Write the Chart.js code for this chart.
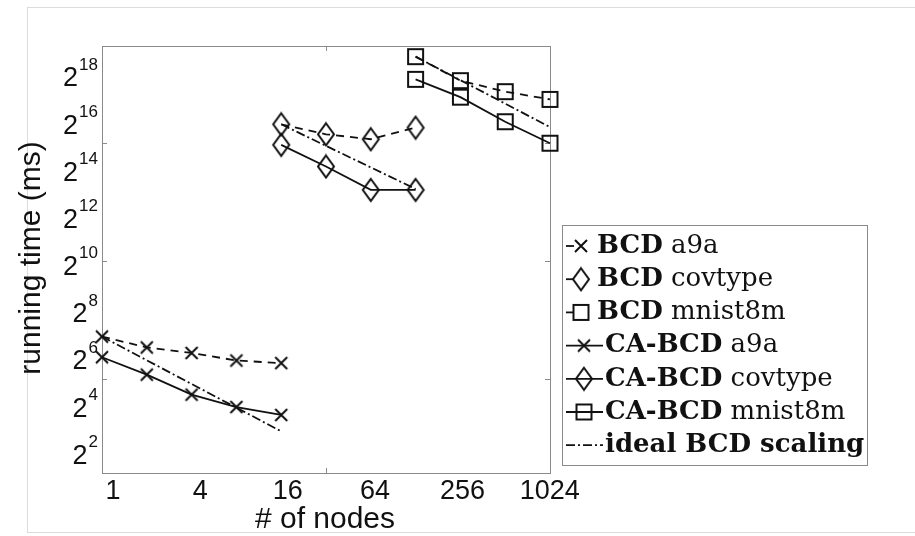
<!DOCTYPE html>
<html>
<head>
<meta charset="utf-8" />
<title>BCD vs CA-BCD running time</title>
<style>
  body { margin: 0; background: #fff; }
</style>
</head>
<body>
<canvas id="chart" width="915" height="536"></canvas>
<script src="https://cdn.jsdelivr.net/npm/chart.js@4.4.1/dist/chart.umd.min.js"></script>
<script>
// number of nodes for each dataset
const nodesA9a = [1, 2, 4, 8, 16];
const nodesCov = [16, 32, 64, 128];
const nodesMnist = [128, 256, 512, 1024];

// running time (ms)
const bcdA9a = [110, 80, 68, 54.5, 50.5];
const caA9a = [60, 36, 20, 13.9, 11];
const bcdCov = [56300, 42000, 36300, 51000];
const caCov = [30800, 16300, 8190, 8190];
const bcdMnist = [411000, 203000, 147000, 117000];
const caMnist = [211000, 125000, 60700, 32300];

// ideal BCD scaling (start and end of each segment)
const idealA9aNodes = [1, 16];
const idealA9a = [110, 6.8];
const idealCovNodes = [16, 128];
const idealCov = [56300, 8420];
const idealMnistNodes = [128, 1024];
const idealMnist = [411000, 51800];

// axis ticks
const xTicks = [1, 4, 16, 64, 256, 1024];
const yExps = [2, 4, 6, 8, 10, 12, 14, 16, 18];
const xTickMarks = [32];
const yTickMarks = [5, 10, 15];

const INK = "#111";
const DASH = [8, 6];
const DASHDOT = [9, 3, 2, 3];

function marker(kind) {
  const c = document.createElement("canvas");
  let w = 16, h = 16;
  if (kind === "diamond") { w = 20; h = 26; }
  if (kind === "square") { w = 19; h = 19; }
  c.width = w; c.height = h;
  const g = c.getContext("2d");
  g.strokeStyle = INK;
  g.lineWidth = 2;
  g.beginPath();
  if (kind === "cross") {
    g.moveTo(2, 2); g.lineTo(14, 14);
    g.moveTo(14, 2); g.lineTo(2, 14);
  } else if (kind === "diamond") {
    g.moveTo(w / 2, 2); g.lineTo(w - 2, h / 2);
    g.lineTo(w / 2, h - 2); g.lineTo(2, h / 2); g.closePath();
  } else {
    g.rect(2, 2, 15, 15);
  }
  g.stroke();
  return c;
}
const mCross = marker("cross");
const mDiamond = marker("diamond");
const mSquare = marker("square");

function pts(xs, ys) {
  return xs.map((x, i) => ({ x: x, y: ys[i] }));
}

function series(xs, ys, dash, pm) {
  return {
    data: pts(xs, ys),
    borderColor: INK,
    borderWidth: 1.8,
    borderDash: dash,
    pointStyle: pm || false,
    pointRadius: pm ? 6 : 0,
    pointBorderColor: INK,
    backgroundColor: "transparent",
    clip: false,
  };
}

const datasets = [
  series(idealA9aNodes, idealA9a, DASHDOT, null),
  series(idealCovNodes, idealCov, DASHDOT, null),
  series(idealMnistNodes, idealMnist, DASHDOT, null),
  series(nodesA9a, bcdA9a, DASH, mCross),
  series(nodesCov, bcdCov, DASH, mDiamond),
  series(nodesMnist, bcdMnist, DASH, mSquare),
  series(nodesA9a, caA9a, [], mCross),
  series(nodesCov, caCov, [], mDiamond),
  series(nodesMnist, caMnist, [], mSquare),
];

const legendItems = [
  { bold: "BCD", rest: " a9a", dash: DASH, m: mCross, ca: false },
  { bold: "BCD", rest: " covtype", dash: DASH, m: mDiamond, ca: false },
  { bold: "BCD", rest: " mnist8m", dash: DASH, m: mSquare, ca: false },
  { bold: "CA-BCD", rest: " a9a", dash: [], m: mCross, ca: true },
  { bold: "CA-BCD", rest: " covtype", dash: [], m: mDiamond, ca: true },
  { bold: "CA-BCD", rest: " mnist8m", dash: [], m: mSquare, ca: true },
  { bold: "ideal BCD scaling", rest: "", dash: DASHDOT, m: null, ca: true },
];

const frame = {
  id: "frame",
  beforeDatasetsDraw(chart) {
    const ctx = chart.ctx;
    const a = chart.chartArea;
    const xs = chart.scales.x, ys = chart.scales.y;
    ctx.save();
    // figure border
    ctx.strokeStyle = "#dcdcdc";
    ctx.lineWidth = 1;
    ctx.strokeRect(27.5, 7.5, 900, 525);
    // axes box
    ctx.strokeStyle = "#8a8a8a";
    ctx.strokeRect(a.left + 0.5, a.top + 0.5, a.right - a.left, a.bottom - a.top);
    ctx.beginPath();
    for (const v of xTickMarks) {
      const px = Math.round(xs.getPixelForValue(v)) + 0.5;
      ctx.moveTo(px, a.top); ctx.lineTo(px, a.top + 5);
      ctx.moveTo(px, a.bottom); ctx.lineTo(px, a.bottom - 5);
    }
    for (const k of yTickMarks) {
      const py = Math.round(ys.getPixelForValue(Math.pow(2, k))) + 0.5;
      ctx.moveTo(a.left, py); ctx.lineTo(a.left + 5, py);
      ctx.moveTo(a.right, py); ctx.lineTo(a.right - 5, py);
    }
    ctx.stroke();
    ctx.restore();
  },
  afterDraw(chart) {
    const ctx = chart.ctx;
    const a = chart.chartArea;
    const xs = chart.scales.x, ys = chart.scales.y;
    const sans = '"Liberation Sans", Arial, sans-serif';
    ctx.save();
    ctx.fillStyle = INK;

    // x tick labels (slightly compressed spacing, as in the original figure)
    ctx.font = "27px " + sans;
    ctx.textAlign = "center";
    ctx.textBaseline = "middle";
    for (const v of xTicks) {
      const sx = xs.getPixelForValue(v);
      const px = a.left + 11 + (sx - a.left) * 0.975;
      ctx.fillText(String(v), px, 492);
    }

    // y tick labels 2^k
    ctx.textAlign = "right";
    for (const k of yExps) {
      const py = ys.getPixelForValue(Math.pow(2, k));
      ctx.font = "17px " + sans;
      const e = String(k);
      const ew = ctx.measureText(e).width;
      ctx.fillText(e, 98, py - 7);
      ctx.font = "27px " + sans;
      ctx.fillText("2", 97 - ew, py + 7);
    }

    // axis titles
    ctx.font = "30px " + sans;
    ctx.textAlign = "center";
    ctx.textBaseline = "alphabetic";
    ctx.fillText("# of nodes", 325, 528);
    ctx.save();
    ctx.translate(40, 258);
    ctx.rotate(-Math.PI / 2);
    ctx.fillText("running time (ms)", 0, 0);
    ctx.restore();

    // legend box
    ctx.fillStyle = "#fff";
    ctx.fillRect(562.5, 225.5, 305, 240);
    ctx.strokeStyle = "#8a8a8a";
    ctx.lineWidth = 1;
    ctx.strokeRect(562.5, 225.5, 305, 240);

    const serif = '"DejaVu Serif", "Liberation Serif", serif';
    legendItems.forEach((it, i) => {
      const y = 246 + i * 33.2;
      ctx.strokeStyle = INK;
      ctx.lineWidth = 1.8;
      ctx.setLineDash(it.dash);
      ctx.beginPath();
      if (it.ca) { ctx.moveTo(566, y); ctx.lineTo(603, y); }
      else { ctx.moveTo(566, y); ctx.lineTo(576, y); }
      ctx.stroke();
      ctx.setLineDash([]);
      if (it.m) {
        const mx = it.ca ? 584 : 581;
        ctx.drawImage(it.m, mx - it.m.width / 2, y - it.m.height / 2);
      }
      const tx = it.ca ? 605 : 597;
      ctx.fillStyle = INK;
      ctx.textAlign = "left";
      ctx.textBaseline = "middle";
      ctx.font = "bold 26px " + serif;
      ctx.fillText(it.bold, tx, y);
      const bw = ctx.measureText(it.bold).width;
      ctx.font = "26px " + serif;
      ctx.fillText(it.rest, tx + bw, y);
    });
    ctx.restore();
  },
};

new Chart("chart", {
  type: "line",
  data: { datasets: datasets },
  options: {
    responsive: false,
    animation: false,
    layout: { padding: { left: 102, right: 365, top: 46, bottom: 63 } },
    plugins: { legend: { display: false }, tooltip: { enabled: false } },
    scales: {
      x: { type: "logarithmic", min: 1, max: 1024, display: false },
      y: { type: "logarithmic", min: 2, max: Math.pow(2, 19.1), display: false },
    },
  },
  plugins: [frame],
});
</script>
</body>
</html>
